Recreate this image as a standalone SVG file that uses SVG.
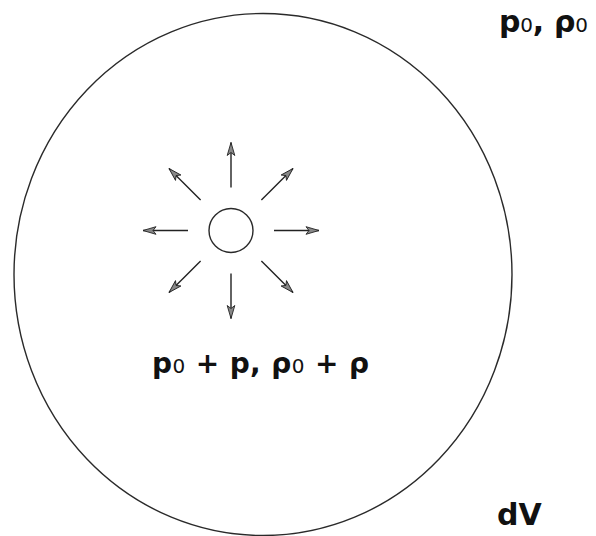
<svg xmlns="http://www.w3.org/2000/svg" width="596" height="536" viewBox="0 0 596 536">
<defs>
<style>
.outline{fill:none;stroke:#2a2a2a;stroke-width:1.4}
.arr{stroke:#222;stroke-width:1.4;fill:none;marker-end:url(#ah)}
.lbl{font-family:"DejaVu Sans","Liberation Sans",sans-serif;font-weight:bold;fill:#111}
.sub{font-weight:normal}
</style>
<marker id="ah" markerUnits="userSpaceOnUse" markerWidth="16" markerHeight="10" viewBox="-14 -5 16 10" refX="0" refY="0" orient="auto">
<path d="M0,0 L-13,-3.8 L-10,0 L-13,3.8 Z" fill="#888" stroke="#222" stroke-width="0.9" stroke-linejoin="miter"/>
</marker>
</defs>
<rect width="596" height="536" fill="#fff"/>
<g id="volume">
<ellipse class="outline" cx="263" cy="274.5" rx="249" ry="261"/>
</g>
<g id="source">
<circle class="outline" cx="231" cy="230.5" r="22"/>
</g>
<g id="connectors">
<line class="arr" x1="231" y1="187.5" x2="231" y2="142.5"/>
<line class="arr" x1="231" y1="273.5" x2="231" y2="318.5"/>
<line class="arr" x1="188" y1="230.5" x2="143" y2="230.5"/>
<line class="arr" x1="274" y1="230.5" x2="319" y2="230.5"/>
<line class="arr" x1="200.6" y1="200.1" x2="169" y2="168.5"/>
<line class="arr" x1="261.4" y1="200.1" x2="293" y2="168.5"/>
<line class="arr" x1="200.6" y1="260.9" x2="169" y2="292.5"/>
<line class="arr" x1="261.4" y1="260.9" x2="293" y2="292.5"/>
</g>
<g id="label-outside">
<text class="lbl" x="499" y="32" font-size="30" textLength="89" lengthAdjust="spacing">p<tspan class="sub" font-size="20">0</tspan>, ρ<tspan class="sub" font-size="20">0</tspan></text>
</g>
<g id="label-inside">
<text class="lbl" x="152" y="373" font-size="28" textLength="217" lengthAdjust="spacing">p<tspan class="sub" font-size="20">0</tspan> + p, ρ<tspan class="sub" font-size="20">0</tspan> + ρ</text>
</g>
<g id="label-dV">
<text class="lbl" x="497" y="525" font-size="30">dV</text>
</g>
</svg>
